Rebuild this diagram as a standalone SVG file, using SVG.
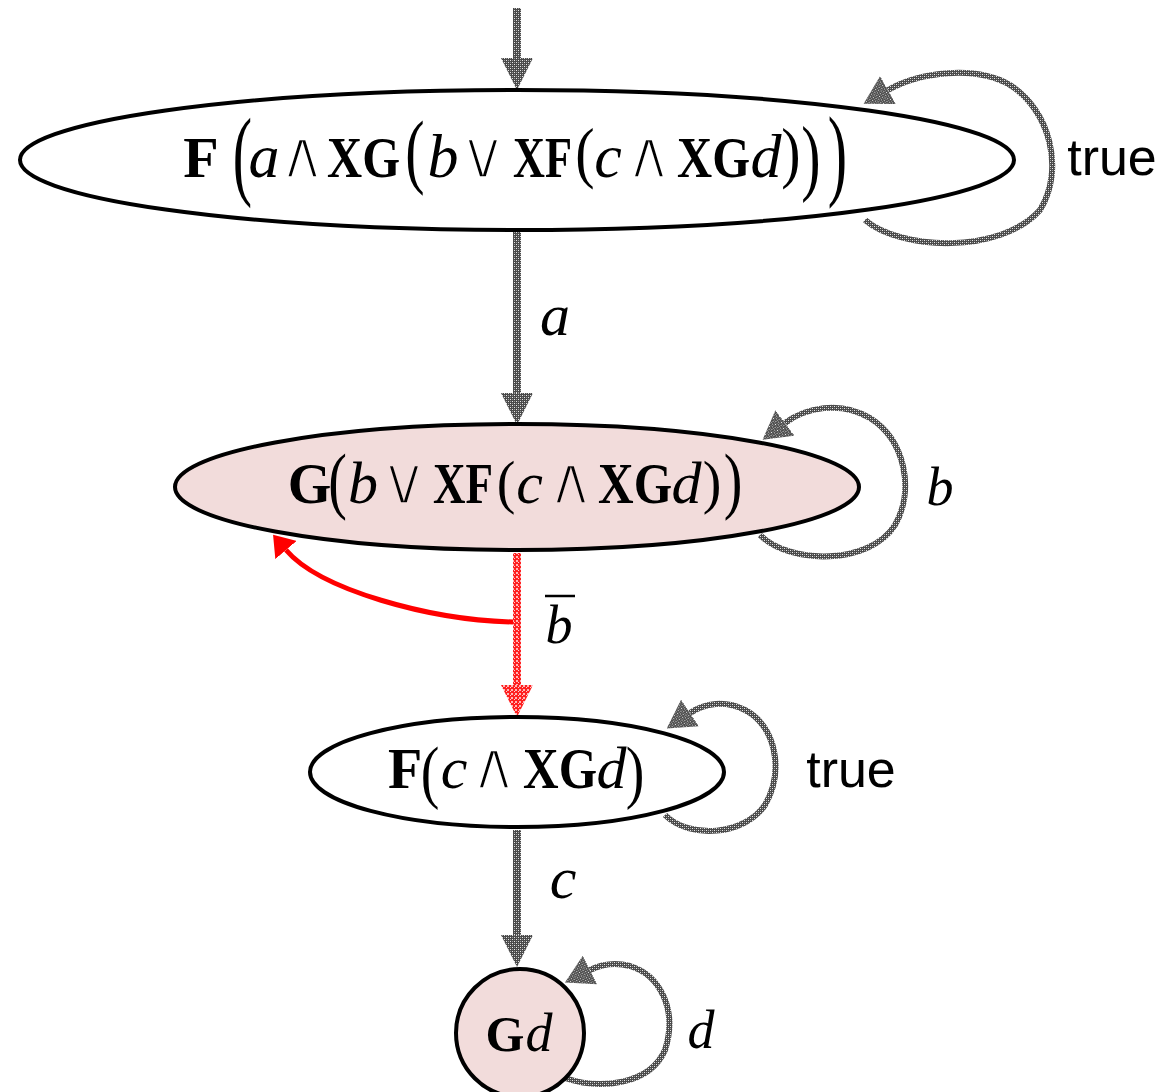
<svg xmlns="http://www.w3.org/2000/svg" width="1167" height="1092" viewBox="0 0 1167 1092">
  <style>
    text { text-anchor: middle; fill: #000; }
    .b { font-family: "Liberation Serif", serif; font-weight: bold; }
    .i { font-family: "Liberation Serif", serif; font-style: italic; }
    .p { font-family: "Liberation Serif", serif; }
    /* logical operators: outline in the background colour keeps the glyph thin */
    .op { font-family: "DejaVu Sans", sans-serif; font-size: 68px; stroke: #fff; stroke-width: 3.4px; }
    .acc .op, .opk { stroke: #f2dcdb; }
    .s { font-family: "Liberation Sans", Arial, sans-serif; }
    .state { stroke: #000; stroke-width: 4; }
    .plain { fill: #fff; }
    .acc { fill: #f2dcdb; }
    .edge { fill: none; stroke: url(#grey); stroke-width: 8; }
    .loop { fill: none; stroke: url(#grey); stroke-width: 6; }
  </style>
  <defs>
    <!-- dithered grey used by the transitions -->
    <pattern id="grey" width="4" height="4" patternUnits="userSpaceOnUse">
      <rect width="4" height="4" fill="#4a4a4a"/>
      <rect x="0" y="0" width="1" height="1" fill="#e6e6e6"/>
      <rect x="2" y="2" width="1" height="1" fill="#e6e6e6"/>
      <rect x="2" y="0" width="1" height="1" fill="#9a9a9a"/>
      <rect x="0" y="2" width="1" height="1" fill="#9a9a9a"/>
    </pattern>
    <!-- dithered red for the rejecting transition -->
    <pattern id="redd" width="4" height="4" patternUnits="userSpaceOnUse">
      <rect width="4" height="4" fill="#ff2020"/>
      <rect x="0" y="0" width="2" height="2" fill="#ffb4b4"/>
      <rect x="2" y="2" width="1" height="1" fill="#ffd0d0"/>
    </pattern>
    <marker id="ah" viewBox="0 0 32 32" refX="0" refY="16" markerWidth="32" markerHeight="32" markerUnits="userSpaceOnUse" orient="auto">
      <path d="M0,0 L32,16 L0,32 z" fill="url(#grey)"/>
    </marker>
    <marker id="ahs" viewBox="0 0 28 32" refX="0" refY="16" markerWidth="28" markerHeight="32" markerUnits="userSpaceOnUse" orient="auto">
      <path d="M0,0 L28,16 L0,32 z" fill="url(#grey)"/>
    </marker>
    <marker id="ahr" viewBox="0 0 32 32" refX="0" refY="16" markerWidth="32" markerHeight="32" markerUnits="userSpaceOnUse" orient="auto">
      <path d="M0,0 L32,16 L0,32 z" fill="url(#redd)"/>
    </marker>
    <marker id="ahrs" viewBox="0 0 20 28" refX="0" refY="14" markerWidth="20" markerHeight="28" markerUnits="userSpaceOnUse" orient="auto">
      <path d="M0,0 L20,14 L0,28 z" fill="#ff0000"/>
    </marker>
  </defs>

  <!-- transitions -->
  <g id="connectors">
    <path class="edge" d="M517,8 L517,58" marker-end="url(#ah)"/>
    <path class="loop" d="M865,220 C900,250 1000,255 1040,210 C1065,170 1050,110 1010,85 C975,65 920,72 888,90" marker-end="url(#ahs)"/>
    <path class="edge" d="M517,232 L517,393" marker-end="url(#ah)"/>
    <path class="loop" d="M760,535 C790,565 870,565 895,525 C915,490 905,440 870,418 C840,400 805,408 785,423" marker-end="url(#ahs)"/>
    <path d="M517,553 L517,685" fill="none" stroke="url(#redd)" stroke-width="8" marker-end="url(#ahr)"/>
    <path d="M513,622 C430,620 320,590 286,550" fill="none" stroke="#ff0000" stroke-width="5" marker-end="url(#ahrs)"/>
    <path class="loop" d="M665,815 C690,840 745,835 765,805 C785,770 775,725 745,710 C725,700 705,703 690,713" marker-end="url(#ahs)"/>
    <path class="edge" d="M517,830 L517,935" marker-end="url(#ah)"/>
    <path class="loop" d="M565,1078 C600,1090 650,1085 665,1050 C678,1010 660,975 630,966 C615,962 602,964 590,970" marker-end="url(#ahs)"/>

    <!-- transition labels -->
    <text class="s" x="1112" y="175" font-size="52">true</text>
    <text class="i" x="555" y="335" font-size="60">a</text>
    <text class="i" x="940" y="505" font-size="54">b</text>
    <text class="i" x="559" y="643" font-size="54">b</text>
    <line x1="545" y1="596" x2="575" y2="596" stroke="#000" stroke-width="2.5"/>
    <text class="s" x="851" y="787" font-size="52">true</text>
    <text class="i" x="563" y="898" font-size="60">c</text>
    <text class="i" x="701" y="1048" font-size="54">d</text>
  </g>

  <!-- initial state -->
  <g id="n1">
    <ellipse class="state plain" cx="517" cy="160" rx="497" ry="70"/>
    <text class="b" x="201" y="177" font-size="58">F</text>
    <text class="p" font-size="58" transform="translate(242.5,187) scale(1,1.717)">(</text>
    <text class="i" x="264" y="177" font-size="62">a</text>
    <text class="op" x="302.5" y="178">∧</text>
    <text class="b" x="363.5" y="177" font-size="58" textLength="73" lengthAdjust="spacingAndGlyphs">XG</text>
    <text class="p" font-size="58" transform="translate(415,178) scale(1,1.434)">(</text>
    <text class="i" x="443" y="177" font-size="62">b</text>
    <text class="op" x="483" y="178">∨</text>
    <text class="b" x="542.5" y="177" font-size="58" textLength="59" lengthAdjust="spacingAndGlyphs">XF</text>
    <text class="p" font-size="58" transform="translate(585,175) scale(1,1.152)">(</text>
    <text class="i" x="608" y="177" font-size="62">c</text>
    <text class="op" x="649" y="178">∧</text>
    <text class="b" x="713.5" y="177" font-size="58" textLength="73" lengthAdjust="spacingAndGlyphs">XG</text>
    <text class="i" x="766" y="177" font-size="62">d</text>
    <text class="p" font-size="58" transform="translate(791,175) scale(1,1.152)">)</text>
    <text class="p" font-size="58" transform="translate(811,184.7) scale(1,1.455)">)</text>
    <text class="p" font-size="58" transform="translate(837.5,186.5) scale(1,1.758)">)</text>
  </g>

  <g id="n2">
    <ellipse class="state acc" cx="517" cy="487" rx="342" ry="63"/>
    <text class="b" x="309.5" y="503" font-size="56">G</text>
    <text class="p" font-size="56" transform="translate(337.5,505) scale(1,1.318)">(</text>
    <text class="i" x="363" y="503" font-size="60">b</text>
    <text class="op opk" x="404" y="504">∨</text>
    <text class="b" x="463" y="503" font-size="56" textLength="60" lengthAdjust="spacingAndGlyphs">XF</text>
    <text class="p" font-size="56" transform="translate(506,502.4) scale(1,1.067)">(</text>
    <text class="i" x="529.5" y="503" font-size="60">c</text>
    <text class="op opk" x="571" y="504">∧</text>
    <text class="b" x="635" y="503" font-size="56" textLength="74" lengthAdjust="spacingAndGlyphs">XG</text>
    <text class="i" x="686.5" y="503" font-size="60">d</text>
    <text class="p" font-size="56" transform="translate(712,502.4) scale(1,1.067)">)</text>
    <text class="p" font-size="56" transform="translate(733,505) scale(1,1.318)">)</text>
  </g>

  <g id="n3">
    <ellipse class="state plain" cx="517" cy="772" rx="207" ry="55"/>
    <text class="b" x="405" y="788" font-size="56">F</text>
    <text class="p" font-size="56" transform="translate(430,794.6) scale(1,1.255)">(</text>
    <text class="i" x="454" y="788" font-size="60">c</text>
    <text class="op" x="494" y="789">∧</text>
    <text class="b" x="560" y="788" font-size="56" textLength="74" lengthAdjust="spacingAndGlyphs">XG</text>
    <text class="i" x="611.5" y="788" font-size="60">d</text>
    <text class="p" font-size="56" transform="translate(635,794.6) scale(1,1.255)">)</text>
  </g>

  <g id="n4">
    <circle class="state acc" cx="520" cy="1033" r="64"/>
    <text class="b" x="505" y="1051" font-size="50">G</text>
    <text class="i" x="539" y="1051" font-size="54">d</text>
  </g>
</svg>
